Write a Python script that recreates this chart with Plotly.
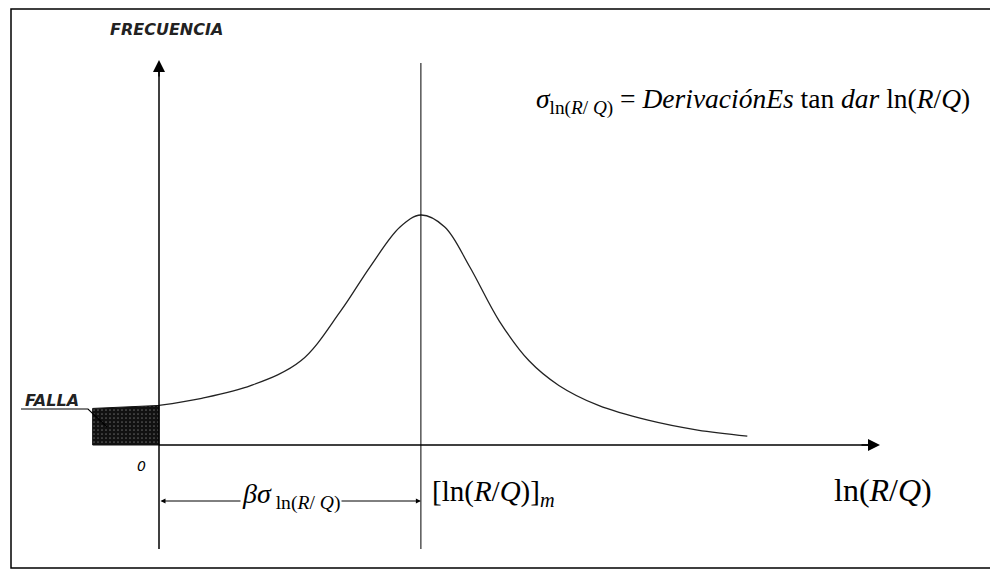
import plotly.graph_objects as go

# ---- data ----
# x: ln(R/Q) in arbitrary units (0 at the frequency axis, mean at 3.0)
# y: relative frequency (peak = 1)
curve_x = [0.0, 0.489, 1.057, 1.625, 2.080, 2.420, 2.761, 3.0, 3.273, 3.557, 3.898, 4.239, 4.580, 5.034, 5.602, 6.170, 6.739]
curve_y = [0.172, 0.203, 0.259, 0.366, 0.582, 0.776, 0.948, 1.0, 0.948, 0.776, 0.539, 0.366, 0.259, 0.172, 0.108, 0.065, 0.039]
falla_x = [-0.76, 0.0]
falla_top = [0.159, 0.172]
mean_x = 3.0

W, H = 998, 584
X0PX, XSCALE = 151, 87.3   # pixel of x=0, pixels per unit
Y0PX, YSCALE = 437, 230.0  # pixel of y=0, pixels per unit

def dx(px):
    return (px - X0PX) / XSCALE

def dy(py):
    return (Y0PX - py) / YSCALE

fig = go.Figure()

# failure region
fig.add_trace(go.Scatter(
    x=[falla_x[0], falla_x[0], falla_x[1], falla_x[1], falla_x[0]],
    y=[0, falla_top[0], falla_top[1], 0, 0],
    mode="lines", fill="toself", fillcolor="#111111",
    fillpattern=dict(shape=".", bgcolor="#111111", fgcolor="#aaaaaa", size=4, solidity=0.15),
    line=dict(color="#111111", width=1), hoverinfo="skip", showlegend=False))

# distribution curve
fig.add_trace(go.Scatter(
    x=curve_x, y=curve_y, mode="lines", line=dict(color="#222222", width=1.3, shape="spline"),
    hoverinfo="skip", showlegend=False))

shapes = []
# outer frame
shapes.append(dict(type="rect", xref="paper", yref="paper", x0=3 / W, x1=984 / W, y0=1 - 560 / H, y1=1 - 1 / H,
                   line=dict(color="black", width=1.5)))
# frequency axis (extends below the x axis)
shapes.append(dict(type="line", x0=0, x1=0, y0=dy(541), y1=dy(60), line=dict(color="black", width=1.5)))
# mean line
shapes.append(dict(type="line", x0=mean_x, x1=mean_x, y0=dy(541), y1=dy(55), line=dict(color="black", width=1)))
# x axis
shapes.append(dict(type="line", x0=0, x1=dx(862), y0=0, y1=0, line=dict(color="black", width=1.5)))
# leader line for FALLA
shapes.append(dict(type="path", path=f"M {dx(13)},{dy(401)} L {dx(80)},{dy(401)} L {dx(99)},{dy(419)}",
                   line=dict(color="black", width=1.2)))
fig.update_layout(shapes=shapes)

serif = "Liberation Serif, DejaVu Serif, serif"
sans = "DejaVu Sans, Liberation Sans, Arial"
ann = []
# arrowheads
ann.append(dict(x=0, y=dy(52), ax=0, ay=dy(70), xref="x", yref="y", axref="x", ayref="y",
                showarrow=True, arrowhead=2, arrowsize=1.6, arrowwidth=1.5, arrowcolor="black", text=""))
ann.append(dict(x=dx(872), y=0, ax=dx(852), ay=0, xref="x", yref="y", axref="x", ayref="y",
                showarrow=True, arrowhead=2, arrowsize=1.6, arrowwidth=1.5, arrowcolor="black", text=""))
# dimension arrow beta*sigma
ann.append(dict(x=mean_x, y=dy(493), ax=0, ay=dy(493), xref="x", yref="y", axref="x", ayref="y",
                showarrow=True, arrowhead=2, startarrowhead=2, arrowside="end+start", arrowsize=1, arrowwidth=1,
                arrowcolor="black", text=""))
ann.append(dict(x=dx(283), y=dy(488), xref="x", yref="y", showarrow=False, bgcolor="white",
                text="<i>βσ</i><sub> ln(<i>R</i>/ <i>Q</i>)</sub>", font=dict(family=serif, size=28, color="black")))
# labels
ann.append(dict(x=dx(158), y=dy(21), xref="x", yref="y", showarrow=False,
                text="<b><i>FRECUENCIA</i></b>", font=dict(family=sans, size=16, color="#222222")))
ann.append(dict(x=dx(44), y=dy(392), xref="x", yref="y", showarrow=False,
                text="<b><i>FALLA</i></b>", font=dict(family=sans, size=16, color="#222222")))
ann.append(dict(x=dx(133), y=dy(458), xref="x", yref="y", showarrow=False,
                text="<i>0</i>", font=dict(family=sans, size=14, color="black")))
ann.append(dict(x=dx(422), y=dy(485), xref="x", yref="y", showarrow=False, xanchor="left",
                text="[ln(<i>R</i>/<i>Q</i>)]<sub><i>m</i></sub>", font=dict(family=serif, size=29, color="black")))
ann.append(dict(x=dx(875), y=dy(482), xref="x", yref="y", showarrow=False,
                text="ln(<i>R</i>/<i>Q</i>)", font=dict(family=serif, size=32, color="black")))
ann.append(dict(x=dx(526), y=dy(93), xref="x", yref="y", showarrow=False, xanchor="left",
                text="<i>σ</i><sub>ln(<i>R</i>/ <i>Q</i>)</sub> = <i>DerivaciónEs</i> tan <i>dar</i> ln(<i>R</i>/<i>Q</i>)",
                font=dict(family=serif, size=27.5, color="black")))
fig.update_layout(annotations=ann)

fig.update_layout(
    width=W, height=H, margin=dict(l=0, r=0, t=0, b=0),
    paper_bgcolor="white", plot_bgcolor="white",
    xaxis=dict(range=[dx(0), dx(W)], visible=False, fixedrange=True),
    yaxis=dict(range=[dy(H), dy(0)], visible=False, fixedrange=True),
    showlegend=False,
)

fig.write_html("out.html")
